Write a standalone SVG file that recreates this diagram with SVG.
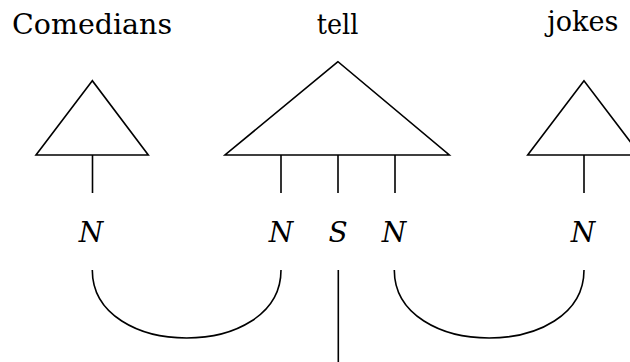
<svg xmlns="http://www.w3.org/2000/svg" width="630" height="362" viewBox="0 0 630 362">
  <style>
    .word { font-family: "DejaVu Serif", "Liberation Serif", serif; font-size: 28px; fill: #000; }
    .cat { font-family: "DejaVu Serif", "Liberation Serif", serif; font-size: 28px; font-style: italic; fill: #000; text-anchor: middle; }
    .ln { fill: none; stroke: #000; stroke-width: 1.6; stroke-linejoin: miter; }
  </style>
  <rect width="630" height="362" fill="#fff"/>

  <!-- lexical item: Comedians -->
  <g id="comedians">
    <text class="word" x="12" y="34.3" textLength="160" lengthAdjust="spacingAndGlyphs">Comedians</text>
    <polygon class="ln" points="92.3,80.7 36,155 148.3,155"/>
    <line class="ln" x1="92.5" y1="155" x2="92.5" y2="193"/>
    <text class="cat" x="91" y="242.3">N</text>
  </g>

  <!-- lexical item: tell -->
  <g id="tell">
    <text class="word" x="316.7" y="34.3" textLength="41.6" lengthAdjust="spacingAndGlyphs">tell</text>
    <polygon class="ln" points="338,61.7 225,155 449.3,155"/>
    <line class="ln" x1="281" y1="155" x2="281" y2="193"/>
    <line class="ln" x1="338" y1="155" x2="338" y2="193"/>
    <line class="ln" x1="395" y1="155" x2="395" y2="193"/>
    <text class="cat" x="281" y="242.3">N</text>
    <text class="cat" x="338" y="242.3">S</text>
    <text class="cat" x="394" y="242.3">N</text>
  </g>

  <!-- lexical item: jokes -->
  <g id="jokes">
    <text class="word" x="547.3" y="31" textLength="71" lengthAdjust="spacingAndGlyphs">jokes</text>
    <polygon class="ln" points="584,80.7 527.7,155 640.3,155"/>
    <line class="ln" x1="584" y1="155" x2="584" y2="193"/>
    <text class="cat" x="583" y="242.3">N</text>
  </g>

  <!-- reductions between categories -->
  <g id="connectors">
    <path class="ln" d="M92.3,270 C92.3,360.7 281,360.7 281,270"/>
    <path class="ln" d="M394.3,270 C394.3,360.7 584,360.7 584,270"/>
    <line class="ln" x1="338.3" y1="270" x2="338.3" y2="362"/>
  </g>
</svg>
